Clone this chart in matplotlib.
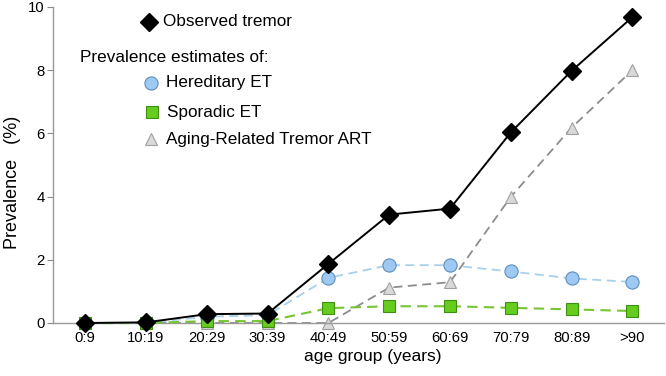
import matplotlib
matplotlib.use("Agg")
import matplotlib.pyplot as plt

plt.rcParams['font.family'] = ['Liberation Sans', 'DejaVu Sans']

# age groups on the x axis
age_groups = ['0:9', '10:19', '20:29', '30:39', '40:49',
              '50:59', '60:69', '70:79', '80:89', '>90']

# prevalence values (%)
observed = [0.0, 0.02, 0.28, 0.30, 1.87, 3.43, 3.62, 6.03, 7.98, 9.68]
hereditary = [0.0, 0.0, 0.2, 0.25, 1.43, 1.83, 1.83, 1.63, 1.41, 1.30]
sporadic = [0.0, 0.0, 0.06, 0.06, 0.47, 0.53, 0.53, 0.48, 0.43, 0.38]
aging = [0.0, 0.0, 0.0, 0.0, 0.0, 1.12, 1.29, 3.99, 6.18, 8.0]

x = list(range(len(age_groups)))

fig = plt.figure(figsize=(6.66, 3.76), dpi=100)
ax = fig.add_axes([53 / 666, 1 - 323 / 376, 611 / 666, 316 / 376])

# estimate lines (dashed), drawn under the observed line
ax.plot(x, aging, linestyle=(0, (5, 3)), color='#8c8c8c', lw=1.3,
        marker='^', markersize=9, markerfacecolor='#d9d9d9',
        markeredgecolor='#a0a0a0', markeredgewidth=0.8, clip_on=False, zorder=2)
ax.plot(x, hereditary, linestyle=(0, (5, 3)), color='#a8d0ea', lw=1.3,
        marker='o', markersize=9.5, markerfacecolor='#9dc9f2',
        markeredgecolor='#5f8fba', markeredgewidth=0.8, clip_on=False, zorder=3)
ax.plot(x, sporadic, linestyle=(0, (5, 3)), color='#77c532', lw=1.5,
        marker='s', markersize=8.5, markerfacecolor='#66cc1e',
        markeredgecolor='#3f8f14', markeredgewidth=0.8, clip_on=False, zorder=3)
# observed tremor
ax.plot(x, observed, color='black', lw=1.4, marker='D', markersize=9,
        markerfacecolor='black', markeredgecolor='black', clip_on=False, zorder=4)

ax.set_xlim(-0.53, 9.52)
ax.set_ylim(0, 10)
ax.set_xticks(x)
ax.set_xticklabels(age_groups, fontsize=10.7)
ax.set_yticks([0, 2, 4, 6, 8, 10])
ax.tick_params(axis='x', length=0, pad=6)
ax.tick_params(axis='y', length=4, width=0.8, color='#888888', labelsize=10.7, pad=2)
for s in ['top', 'right']:
    ax.spines[s].set_visible(False)
for s in ['left', 'bottom']:
    ax.spines[s].set_color('#999999')
    ax.spines[s].set_linewidth(1.0)

fig.text(373 / 666, 1 - 356 / 376, 'age group (years)', fontsize=12.5,
         ha='center', va='center')
fig.text(13 / 666, 1 - 182 / 376, 'Prevalence   (%)', fontsize=13,
         ha='center', va='center', rotation=90)

# hand-made legend
def fx(px):
    return px / 666

def fy(py):
    return 1 - py / 376

ax.plot([fx(149)], [fy(22)], marker='D', markersize=9, color='black',
        transform=fig.transFigure, clip_on=False)
fig.text(fx(163), fy(22), 'Observed tremor', fontsize=12.3, va='center')
fig.text(fx(80), fy(58), 'Prevalence estimates of:', fontsize=12.3, va='center')
ax.plot([fx(151)], [fy(83)], marker='o', markersize=9.5, markerfacecolor='#9dc9f2',
        markeredgecolor='#5f8fba', markeredgewidth=0.8,
        transform=fig.transFigure, clip_on=False)
fig.text(fx(166), fy(83), 'Hereditary ET', fontsize=12.3, va='center')
ax.plot([fx(152)], [fy(112)], marker='s', markersize=8.5, markerfacecolor='#66cc1e',
        markeredgecolor='#3f8f14', markeredgewidth=0.8,
        transform=fig.transFigure, clip_on=False)
fig.text(fx(167), fy(112), 'Sporadic ET', fontsize=12.3, va='center')
ax.plot([fx(151)], [fy(139)], marker='^', markersize=9, markerfacecolor='#d9d9d9',
        markeredgecolor='#a0a0a0', markeredgewidth=0.8,
        transform=fig.transFigure, clip_on=False)
fig.text(fx(166), fy(139), 'Aging-Related Tremor ART', fontsize=12.3, va='center')

fig.savefig('out.png', dpi=100)
